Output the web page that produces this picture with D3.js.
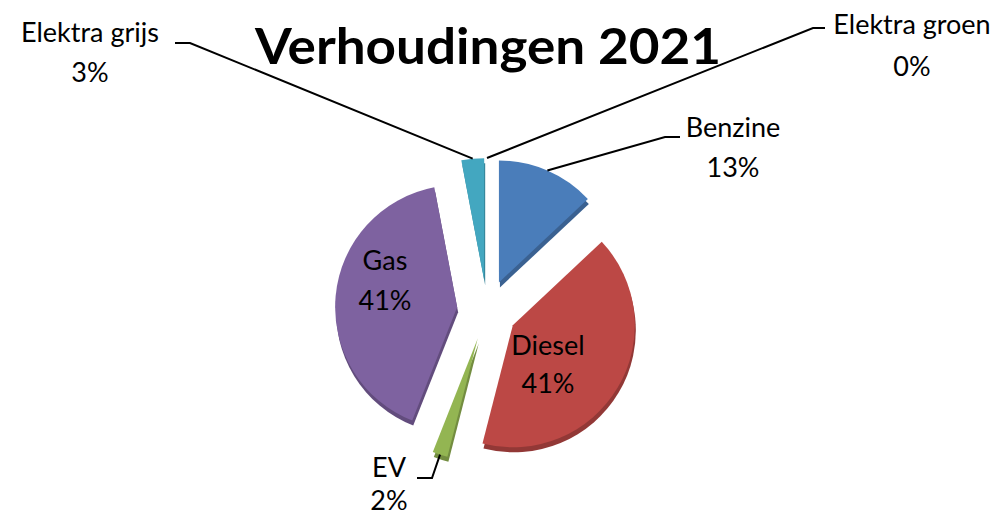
<!DOCTYPE html>
<html>
<head>
<meta charset="utf-8">
<script src="https://cdn.jsdelivr.net/npm/d3@7"></script>
<style>
  body { margin: 0; background: #fff; }
  svg { display: block; }
  text { font-family: Lato, "Open Sans", sans-serif; fill: #000; }
</style>
</head>
<body>
<div id="chart"></div>
<script>
// data
const categories = ["Benzine", "Diesel", "EV", "Gas", "Elektra grijs", "Elektra groen"];
const values = [13, 41, 2, 41, 3, 0];
const labels = ["13%", "41%", "2%", "41%", "3%", "0%"];
const colors = ["#4A7DBA", "#BC4845", "#93B552", "#7E62A0", "#43A7C0", "#F79646"];

let width = 1004,
  height = 517;

let cx = 487, cy = 310,
  r = 122,
  explode = 30,
  depth = 5;

// label layout: [x, y of first baseline, line gap, leader elbow x, elbow y, end x]
const labelLayout = [
  [733, 137, 40, 665, 137, 680],
  [548, 355, 38],
  [389, 477, 33, 432, 478, 417],
  [385, 270, 40],
  [90, 42, 40, 190, 43, 175],
  [912, 34, 42, 813, 28, 825]
];

let svg = d3.select("#chart")
  .append("svg")
  .attr("width", width)
  .attr("height", height);

let data = categories.map((c, i) => ({ name: c, value: values[i], label: labels[i], color: colors[i], layout: labelLayout[i] }));

let pie = d3.pie()
  .sort(null)
  .value(d => d.value);

let arcs = pie(data);

let arc = d3.arc()
  .innerRadius(0)
  .outerRadius(r);

// offset of each exploded slice
function offset(d, dist) {
  let a = (d.startAngle + d.endAngle) / 2;
  return [Math.sin(a) * dist, -Math.cos(a) * dist];
}

let g = svg.append("g")
  .attr("transform", `translate(${cx},${cy})`);

// side of the 3d slices
g.selectAll("path.side")
  .data(arcs.filter(d => d.value > 0))
  .join("path")
  .attr("class", "side")
  .attr("d", arc)
  .attr("fill", d => d3.color(d.data.color).darker(0.7))
  .attr("transform", d => {
    let o = offset(d, explode);
    return `translate(${o[0] + 1},${o[1] + depth})`;
  });

// top of the slices
g.selectAll("path.top")
  .data(arcs.filter(d => d.value > 0))
  .join("path")
  .attr("class", "top")
  .attr("d", arc)
  .attr("fill", d => d.data.color)
  .attr("transform", d => {
    let o = offset(d, explode);
    return `translate(${o[0]},${o[1]})`;
  });

// leader lines
let outside = arcs.filter(d => d.data.layout.length > 3);

svg.selectAll("polyline.leader")
  .data(outside)
  .join("polyline")
  .attr("class", "leader")
  .attr("fill", "none")
  .attr("stroke", "#000")
  .attr("stroke-width", 2)
  .attr("points", d => {
    let o = offset(d, explode);
    let a = (d.startAngle + d.endAngle) / 2;
    let px = cx + o[0] + Math.sin(a) * r,
      py = cy + o[1] - Math.cos(a) * r;
    let l = d.data.layout;
    return [[px, py], [l[3], l[4]], [l[5], l[4]]].map(p => p.join(",")).join(" ");
  });

// labels
let lab = svg.selectAll("text.label")
  .data(arcs)
  .join("text")
  .attr("class", "label")
  .attr("text-anchor", "middle")
  .attr("font-size", 27);

lab.append("tspan")
  .attr("x", d => d.data.layout[0])
  .attr("y", d => d.data.layout[1])
  .text(d => d.data.name);

lab.append("tspan")
  .attr("x", d => d.data.layout[0])
  .attr("y", d => d.data.layout[1] + d.data.layout[2])
  .text(d => d.data.label);

// title
svg.append("text")
  .attr("x", 488)
  .attr("y", 64)
  .attr("text-anchor", "middle")
  .attr("font-size", 50)
  .attr("font-weight", "bold")
  .attr("textLength", 466)
  .attr("lengthAdjust", "spacingAndGlyphs")
  .text("Verhoudingen 2021");
</script>
</body>
</html>
